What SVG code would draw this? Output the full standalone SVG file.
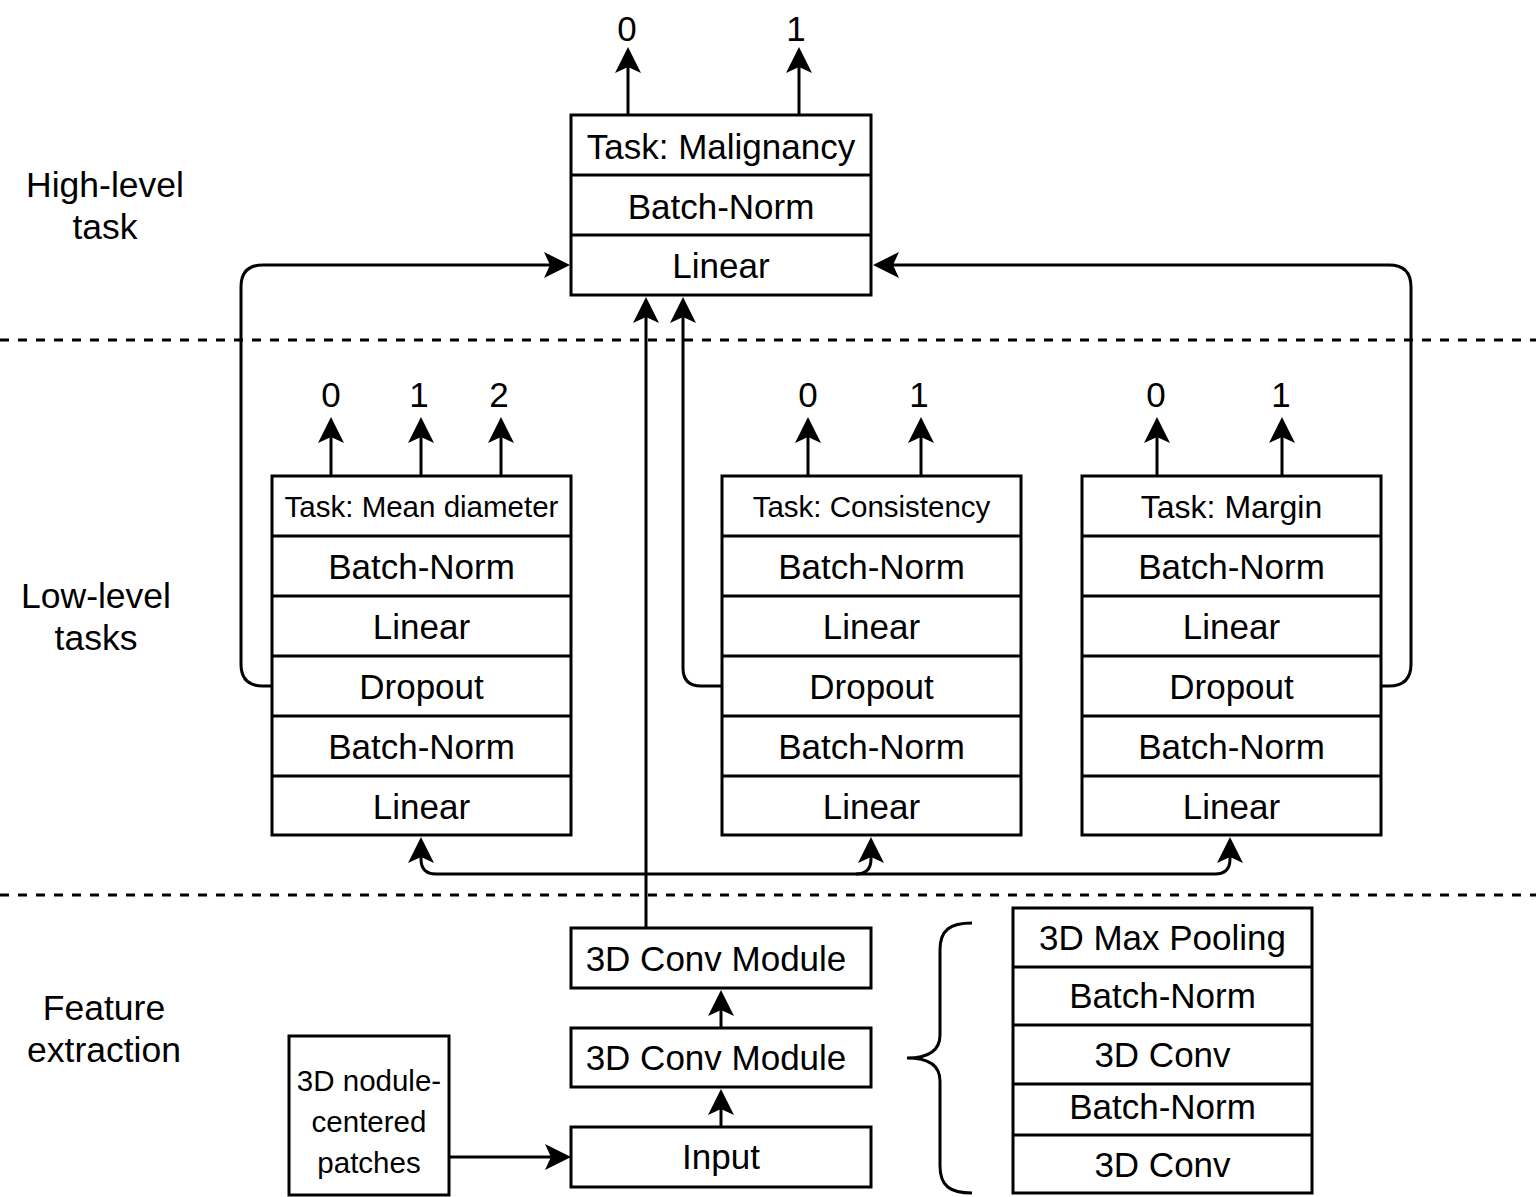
<svg xmlns="http://www.w3.org/2000/svg" width="1536" height="1197" viewBox="0 0 1536 1197">
<style>
  .box { fill: #ffffff; stroke: #000000; stroke-width: 3; }
  .div { stroke: #000000; stroke-width: 3; }
  .t { font-family: "Liberation Sans", Arial, sans-serif; font-size: 35px; fill: #000000; text-anchor: middle; }
  .ts { font-family: "Liberation Sans", Arial, sans-serif; font-size: 29.5px; fill: #000000; text-anchor: middle; }
  .tm { font-family: "Liberation Sans", Arial, sans-serif; font-size: 32px; fill: #000000; text-anchor: middle; }
  .side { font-family: "Liberation Sans", Arial, sans-serif; font-size: 35.5px; fill: #000000; text-anchor: middle; }
  .edge { fill: none; stroke: #000000; stroke-width: 3; }
  .arrow { marker-end: url(#arr); }
  .dash { stroke: #000000; stroke-width: 3; stroke-dasharray: 9 9; }
</style>
<defs>
  <marker id="arr" markerUnits="userSpaceOnUse" viewBox="-28 -15 30 30" markerWidth="30" markerHeight="30" refX="-20" refY="0" orient="auto" overflow="visible">
    <path d="M0,0 L-26,-13 L-20,0 L-26,13 Z" fill="#000000" stroke="none"/>
  </marker>
</defs>
<rect width="1536" height="1197" fill="#ffffff"/>

<g id="separators">
  <line class="dash" x1="0" y1="340" x2="1536" y2="340"/>
  <line class="dash" x1="0" y1="895" x2="1536" y2="895"/>
</g>

<g id="section-labels">
  <text class="side" x="105" y="197">High-level</text>
  <text class="side" x="105" y="239">task</text>
  <text class="side" x="96" y="608">Low-level</text>
  <text class="side" x="96" y="650">tasks</text>
  <text class="side" x="104" y="1020">Feature</text>
  <text class="side" x="104" y="1062">extraction</text>
</g>

<g id="connectors">
  <path class="edge arrow" d="M628,115 V67"/>
  <path class="edge arrow" d="M799,115 V67"/>
  <path class="edge arrow" d="M331,476 V437"/>
  <path class="edge arrow" d="M421,476 V437"/>
  <path class="edge arrow" d="M501,476 V437"/>
  <path class="edge arrow" d="M808,476 V437"/>
  <path class="edge arrow" d="M921,476 V437"/>
  <path class="edge arrow" d="M1157,476 V437"/>
  <path class="edge arrow" d="M1282,476 V437"/>
  <path class="edge arrow" d="M272,686 H263 Q241,686 241,664 V287 Q241,265 263,265 H550"/>
  <path class="edge arrow" d="M722,686 H701 Q683,686 683,668 V317"/>
  <path class="edge arrow" d="M1381,686 H1389 Q1411,686 1411,664 V287 Q1411,265 1389,265 H893"/>
  <path class="edge arrow" d="M646,928 V317"/>
  <path class="edge arrow" d="M856,874 H436 Q421,874 421,859 L421,857"/>
  <path class="edge arrow" d="M856,874 Q871,874 871,859 L871,857"/>
  <path class="edge arrow" d="M856,874 H1215 Q1230,874 1230,859 L1230,857"/>
  <path class="edge arrow" d="M721,1127 V1109"/>
  <path class="edge arrow" d="M721,1028 V1010"/>
  <path class="edge arrow" d="M449,1157 H551"/>
  <path class="edge" d="M972,923 C950,923 940,930 940,950 V1035 C940,1050 930,1058 907,1058 C930,1058 940,1066 940,1081 V1166 C940,1186 950,1193 972,1193"/>
</g>

<g id="output-labels">
  <text class="t" x="627" y="41">0</text>
  <text class="t" x="796" y="41">1</text>
  <text class="t" x="331" y="407">0</text>
  <text class="t" x="419" y="407">1</text>
  <text class="t" x="499" y="407">2</text>
  <text class="t" x="808" y="407">0</text>
  <text class="t" x="919" y="407">1</text>
  <text class="t" x="1156" y="407">0</text>
  <text class="t" x="1281" y="407">1</text>
</g>

<g id="malignancy">
  <rect class="box" x="571" y="115" width="300" height="180"/>
  <line class="div" x1="571" y1="175" x2="871" y2="175"/>
  <line class="div" x1="571" y1="235" x2="871" y2="235"/>
  <text class="t" x="721" y="159">Task: Malignancy</text>
  <text class="t" x="721" y="219">Batch-Norm</text>
  <text class="t" x="721" y="278">Linear</text>
</g>

<g id="mean-diameter">
  <rect class="box" x="272" y="476" width="299" height="359"/>
  <line class="div" x1="272" y1="536" x2="571" y2="536"/>
  <line class="div" x1="272" y1="596" x2="571" y2="596"/>
  <line class="div" x1="272" y1="656" x2="571" y2="656"/>
  <line class="div" x1="272" y1="716" x2="571" y2="716"/>
  <line class="div" x1="272" y1="776" x2="571" y2="776"/>
  <text class="ts" x="421.5" y="517">Task: Mean diameter</text>
  <text class="t" x="421.5" y="579">Batch-Norm</text>
  <text class="t" x="421.5" y="639">Linear</text>
  <text class="t" x="421.5" y="699">Dropout</text>
  <text class="t" x="421.5" y="759">Batch-Norm</text>
  <text class="t" x="421.5" y="819">Linear</text>
</g>

<g id="consistency">
  <rect class="box" x="722" y="476" width="299" height="359"/>
  <line class="div" x1="722" y1="536" x2="1021" y2="536"/>
  <line class="div" x1="722" y1="596" x2="1021" y2="596"/>
  <line class="div" x1="722" y1="656" x2="1021" y2="656"/>
  <line class="div" x1="722" y1="716" x2="1021" y2="716"/>
  <line class="div" x1="722" y1="776" x2="1021" y2="776"/>
  <text class="ts" x="871.5" y="517">Task: Consistency</text>
  <text class="t" x="871.5" y="579">Batch-Norm</text>
  <text class="t" x="871.5" y="639">Linear</text>
  <text class="t" x="871.5" y="699">Dropout</text>
  <text class="t" x="871.5" y="759">Batch-Norm</text>
  <text class="t" x="871.5" y="819">Linear</text>
</g>

<g id="margin">
  <rect class="box" x="1082" y="476" width="299" height="359"/>
  <line class="div" x1="1082" y1="536" x2="1381" y2="536"/>
  <line class="div" x1="1082" y1="596" x2="1381" y2="596"/>
  <line class="div" x1="1082" y1="656" x2="1381" y2="656"/>
  <line class="div" x1="1082" y1="716" x2="1381" y2="716"/>
  <line class="div" x1="1082" y1="776" x2="1381" y2="776"/>
  <text class="tm" x="1231.5" y="518">Task: Margin</text>
  <text class="t" x="1231.5" y="579">Batch-Norm</text>
  <text class="t" x="1231.5" y="639">Linear</text>
  <text class="t" x="1231.5" y="699">Dropout</text>
  <text class="t" x="1231.5" y="759">Batch-Norm</text>
  <text class="t" x="1231.5" y="819">Linear</text>
</g>

<g id="conv-module-2">
  <rect class="box" x="571" y="928" width="300" height="60"/>
  <text class="t" x="716" y="971">3D Conv Module</text>
</g>

<g id="conv-module-1">
  <rect class="box" x="571" y="1028" width="300" height="59"/>
  <text class="t" x="716" y="1070">3D Conv Module</text>
</g>

<g id="input">
  <rect class="box" x="571" y="1127" width="300" height="60"/>
  <text class="t" x="721" y="1169">Input</text>
</g>

<g id="patches">
  <rect class="box" x="289" y="1036" width="160" height="159"/>
  <text class="ts" x="369" y="1091">3D nodule-</text>
  <text class="ts" x="369" y="1132">centered</text>
  <text class="ts" x="369" y="1173">patches</text>
</g>

<g id="module-detail">
  <rect class="box" x="1013" y="908" width="299" height="285"/>
  <line class="div" x1="1013" y1="967" x2="1312" y2="967"/>
  <line class="div" x1="1013" y1="1025" x2="1312" y2="1025"/>
  <line class="div" x1="1013" y1="1084" x2="1312" y2="1084"/>
  <line class="div" x1="1013" y1="1135" x2="1312" y2="1135"/>
  <text class="t" x="1162.5" y="950">3D Max Pooling</text>
  <text class="t" x="1162.5" y="1008">Batch-Norm</text>
  <text class="t" x="1162.5" y="1067">3D Conv</text>
  <text class="t" x="1162.5" y="1119">Batch-Norm</text>
  <text class="t" x="1162.5" y="1177">3D Conv</text>
</g>
</svg>
